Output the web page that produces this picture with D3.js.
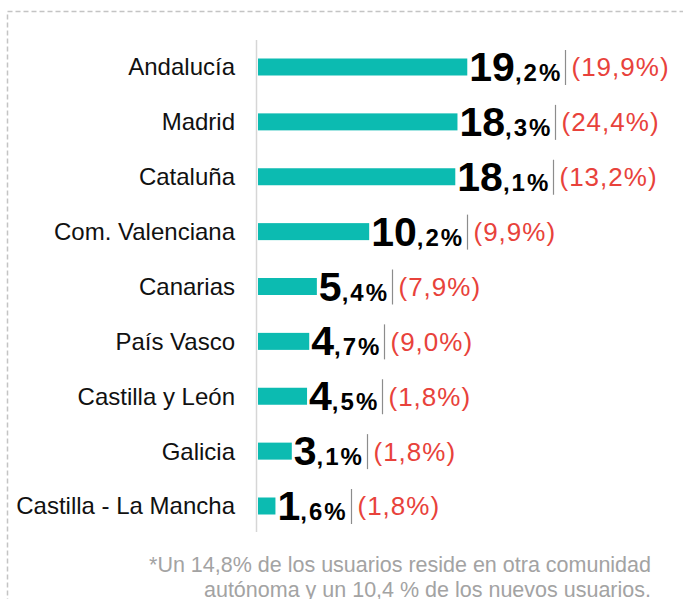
<!DOCTYPE html>
<html>
<head>
<meta charset="utf-8">
<script src="https://cdn.jsdelivr.net/npm/d3@7"></script>
<style>
  body { margin: 0; background: #fff; }
  svg { display: block; font-family: 'Liberation Sans', Arial, sans-serif; }
</style>
</head>
<body>
<script>
var WIDTH = 683, HEIGHT = 599;

// data
var regions = ['Andalucía', 'Madrid', 'Cataluña', 'Com. Valenciana', 'Canarias',
    'País Vasco', 'Castilla y León', 'Galicia', 'Castilla - La Mancha'];
var shares = [19.2, 18.3, 18.1, 10.2, 5.4, 4.7, 4.5, 3.1, 1.6];
var newShares = [19.9, 24.4, 13.2, 9.9, 7.9, 9.0, 1.8, 1.8, 1.8];
var footnote = ['*Un 14,8% de los usuarios reside en otra comunidad',
    'autónoma y un 10,4 % de los nuevos usuarios.'];

var BAR_COLOR = '#0cbbb1',
    RED = '#e8423b',
    BAR_HEIGHT = 17;

var svg = d3.select('body').append('svg').attr('width', WIDTH).attr('height', HEIGHT);

// dashed frame, runs off the right and bottom edges
svg.append('rect')
    .attr('x', 7.5).attr('y', 11.5)
    .attr('width', 700).attr('height', 620)
    .attr('fill', 'none')
    .attr('stroke', '#c4c4c4')
    .attr('stroke-width', 1.5)
    .attr('stroke-dasharray', '5,3');

var x = d3.scaleLinear().domain([0, 20]).range([258, 476]);
var y = d3.scalePoint().domain(regions).range([67, 506]);

var rows = regions.map(function (r, i) {
    return { region: r, share: shares[i], newShare: newShares[i] };
});

// axis line
svg.append('line')
    .attr('x1', 256.5).attr('x2', 256.5)
    .attr('y1', 40).attr('y2', 532)
    .attr('stroke', '#d6d6d6')
    .attr('stroke-width', 1.5);

var row = svg.append('g').selectAll('g')
    .data(rows)
    .enter().append('g')
    .attr('transform', function (d) { return 'translate(0,' + y(d.region) + ')'; });

row.append('text')
    .attr('x', 235)
    .attr('dy', '0.35em')
    .attr('text-anchor', 'end')
    .attr('font-size', 24)
    .attr('fill', '#111')
    .text(function (d) { return d.region; });

row.append('rect')
    .attr('x', x(0))
    .attr('y', -BAR_HEIGHT / 2)
    .attr('width', function (d) { return x(d.share) - x(0); })
    .attr('height', BAR_HEIGHT)
    .attr('fill', BAR_COLOR);

var value = row.append('text')
    .attr('class', 'value')
    .attr('x', function (d) { return x(d.share) + 2; })
    .attr('y', 14)
    .attr('font-weight', 'bold')
    .attr('fill', '#000');

value.append('tspan')
    .attr('font-size', 41)
    .text(function (d) { return d.share.toFixed(1).split('.')[0]; });

value.append('tspan')
    .attr('font-size', 24)
    .attr('letter-spacing', 2)
    .text(function (d) { return ',' + d.share.toFixed(1).split('.')[1] + '%'; });

// separator and new users share, placed after the value text
value.each(function (d) {
    var box = this.getBBox();
    var g = d3.select(this.parentNode);
    var sx = Math.round(box.x + box.width + 3) + 0.5;
    g.append('line')
        .attr('x1', sx).attr('x2', sx)
        .attr('y1', -17).attr('y2', 18)
        .attr('stroke', '#8c8c8c')
        .attr('stroke-width', 1.2);
    g.append('text')
        .attr('x', sx + 6)
        .attr('dy', '0.36em')
        .attr('font-size', 26)
        .attr('letter-spacing', 1)
        .attr('fill', RED)
        .text('(' + d.newShare.toFixed(1).replace('.', ',') + '%)');
});

svg.append('g').selectAll('text')
    .data(footnote)
    .enter().append('text')
    .attr('x', 651)
    .attr('y', function (d, i) { return 572 + i * 25; })
    .attr('text-anchor', 'end')
    .attr('font-size', 21.5)
    .attr('fill', '#a3a3a3')
    .text(function (d) { return d; });
</script>
</body>
</html>
